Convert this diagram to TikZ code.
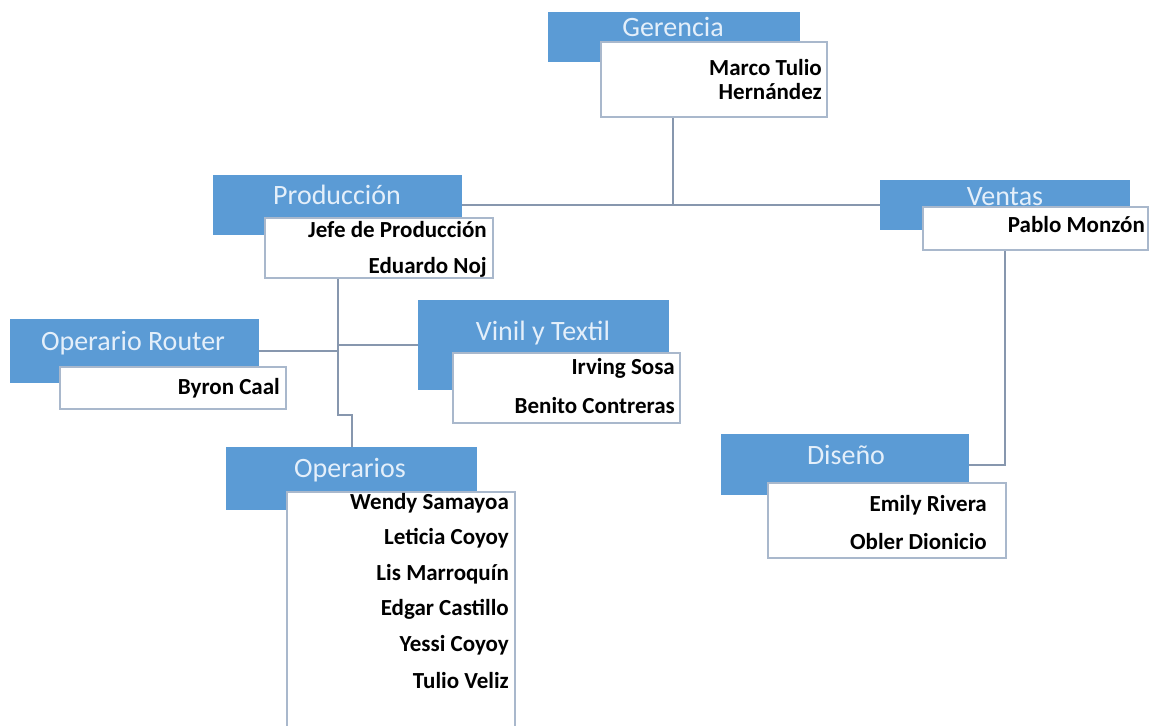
\documentclass[tikz,border=0pt]{standalone}
\usepackage{fontspec}
\setmainfont{Carlito}
\definecolor{headblue}{HTML}{5B9BD5}
\definecolor{headtxt}{HTML}{E4EFFA}
\definecolor{boxline}{HTML}{A9B8CC}
\definecolor{linkgray}{HTML}{8797AE}
\tikzset
{
  headbox/.style={fill=headblue,draw=none,inner sep=0pt},
  namebox/.style={fill=white,draw=boxline,line width=1.3pt,inner sep=0pt},
  headtext/.style={text=headtxt,inner sep=0pt,font=\fontsize{28}{33}\selectfont},
  nametext/.style={anchor=east,inner sep=0pt,font=\bfseries\fontsize{23}{27}\selectfont},
  link/.style={draw=linkgray,line width=2pt}
}
\begin{document}
\begin{tikzpicture}[x=1pt,y=-1pt,line cap=butt,line join=miter]
            \useasboundingbox[fill=white] (0,0) rectangle (1150,725);
            % cajas azules
            \node[headbox,minimum width=252pt,minimum height=50pt] (gerH)  at (674,37)    {};
            \node[headbox,minimum width=249pt,minimum height=60pt] (prodH) at (337.5,205) {};
            \node[headbox,minimum width=250pt,minimum height=50pt] (ventH) at (1005,205)  {};
            \node[headbox,minimum width=249pt,minimum height=64pt] (routH) at (134.5,351) {};
            \node[headbox,minimum width=251pt,minimum height=90pt] (vinH)  at (543.5,345) {};
            \node[headbox,minimum width=251pt,minimum height=63pt] (opH)   at (351.5,478.5) {};
            \node[headbox,minimum width=248pt,minimum height=61pt] (disH)  at (845,464.5) {};
            % puntos de union
            \coordinate (gerDrop)  at (673,117);
            \coordinate (prodDrop) at (338,278);
            \coordinate (prodJog)  at (338,415);
            \coordinate (ventDrop) at (1005,250);
            % lineas
            \draw[link] (gerDrop) -- (gerDrop |- prodH.east);
            \draw[link] (prodH.east) -- (ventH.west);
            \draw[link] (prodDrop) -- (prodJog) -| (opH.north);
            \draw[link] (routH.east) -- (routH.east -| prodDrop);
            \draw[link] (vinH.west -| prodDrop) -- (vinH.west);
            \draw[link] (ventDrop) |- (disH.east);
            % cajas blancas
            \node[namebox,minimum width=226pt,minimum height=75pt]  (gerN)  at (714,79.5)   {};
            \node[namebox,minimum width=228pt,minimum height=60pt]  (prodN) at (379,248)    {};
            \node[namebox,minimum width=225pt,minimum height=43pt]  (ventN) at (1035.5,228.5) {};
            \node[namebox,minimum width=226pt,minimum height=42pt]  (routN) at (173,388)    {};
            \node[namebox,minimum width=227pt,minimum height=70pt]  (vinN)  at (566.5,388)  {};
            \node[namebox,minimum width=228pt,minimum height=245pt] (opN)   at (401,614.5)  {};
            \node[namebox,minimum width=238pt,minimum height=75pt]  (disN)  at (887,520.5)  {};
            % titulos
            \node[headtext] (gerT)  at (673,27)  {Gerencia};
            \node[headtext] (prodT) at (337,195) {Producción};
            \node[headtext] (ventT) at (1005,197) {Ventas};
            \node[headtext] (routT) at (133,343) {Operario Router};
            \node[headtext] (vinT)  at (543,333) {Vinil y Textil};
            \node[headtext] (opT)   at (350,470) {Operarios};
            \node[headtext] (disT)  at (846,455) {Diseño};
            % nombres
            \node[nametext] (gerA)  at (822,68)   {Marco Tulio};
            \node[nametext] (gerB)  at (822,92)   {Hernández};
            \node[nametext] (prodA) at (487,230)  {Jefe de Producción};
            \node[nametext] (prodB) at (487,267)  {Eduardo Noj};
            \node[nametext] (ventA) at (1145,225) {Pablo Monzón};
            \node[nametext] (routA) at (280,388)  {Byron Caal};
            \node[nametext] (vinA)  at (675,368)  {Irving Sosa};
            \node[nametext] (vinB)  at (675,406)  {Benito Contreras};
            \node[nametext] (disA)  at (987,505)  {Emily Rivera};
            \node[nametext] (disB)  at (987,542)  {Obler Dionicio};
            \foreach \who [count=\k from 0] in {Wendy Samayoa,Leticia Coyoy,Lis Marroquín,Edgar Castillo,Yessi Coyoy,Tulio Veliz}
              \node[nametext] (op\k) at (509,503+35.5*\k) {\who};
\end{tikzpicture}
\end{document}
